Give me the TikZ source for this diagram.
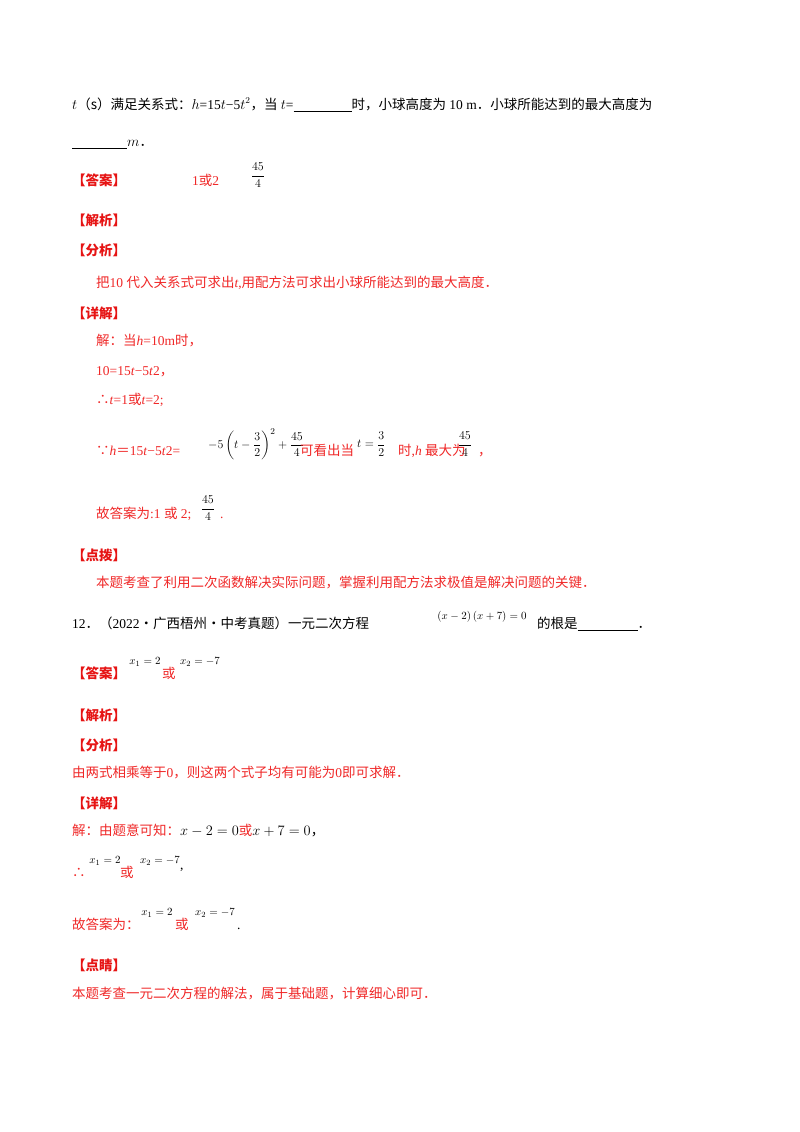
\documentclass[tikz,border=0pt]{standalone}
\usepackage{amsmath}
\usepackage{fontspec}
\setmainfont{Liberation Serif}
\newfontfamily\cjk{Noto Sans CJK SC}
\definecolor{ansred}{RGB}{230,20,20}
\definecolor{solred}{RGB}{240,40,40}
\newcommand{\cc}[1]{{\cjk #1}}
\begin{document}
\begin{tikzpicture}[x=1pt,y=-1pt,
  t/.style={anchor=base west,inner sep=0pt,font=\fontsize{13.5}{16}\selectfont},
  lab/.style={t,text=ansred,font=\fontsize{13.5}{16}\selectfont\cjk\bfseries},
  rt/.style={t,text=solred},
  fr/.style={anchor=center,inner sep=0pt,font=\fontsize{13}{15}\selectfont},
  sm/.style={anchor=center,inner sep=0pt,font=\fontsize{11}{13}\selectfont}]
\useasboundingbox (0,0) rectangle (800,1132);
\fill[white] (0,0) rectangle (800,1132);
\node[t] (l1) at (72,109) {$t$\cc{（s）满足关系式：}$h$=15$t$−5$t^2$\cc{，当} $t$=\underline{\hspace{58pt}}\cc{时，小球高度为} 10 m\cc{．小球所能达到的最大高度为}};
\node[t] (l2) at (72,146) {\underline{\hspace{55pt}}$m$\cc{．}};
\node[lab] (a1) at (72,185) {【答案】};
\node[rt] (a1v) at (192,185) {1\cc{或}2};
\node[fr] (a1f) at (258,175) {$\dfrac{45}{4}$};
\node[lab] (j1) at (72,225) {【解析】};
\node[lab] (f1) at (72,255) {【分析】};
\node[rt] (f1t) at (96,287) {\cc{把}10 \cc{代入关系式可求出}\textit{t},\cc{用配方法可求出小球所能达到的最大高度．}};
\node[lab] (x1) at (72,318) {【详解】};
\node[rt] (s1) at (96,345) {\cc{解：当}\textit{h}=10m\cc{时，}};
\node[rt] (s2) at (96,375) {10=15\textit{t}−5\textit{t}2\cc{，}};
\node[rt] (s3) at (96,404) {\cc{∴}\textit{t}=1\cc{或}\textit{t}=2;};
\node[rt] (s4) at (96,455) {\cc{∵}\textit{h}\cc{＝}15\textit{t}−5\textit{t}2=};
\node[fr,anchor=west] (s4m) at (208,444) {\color{black}$-5\left(t-\dfrac{3}{2}\right)^2+\dfrac{45}{4}$};
\node[rt] (s4b) at (300,455) {\cc{可看出当}};
\node[fr,anchor=west] (s4c) at (357,444) {\color{black}$t=\dfrac{3}{2}$};
\node[rt] (s4d) at (398,455) {\cc{时},\textit{h} \cc{最大为}};
\node[fr] (s4e) at (465,444) {$\dfrac{45}{4}$};
\node[rt] (s4f) at (478,455) {\cc{，}};
\node[rt] (s5) at (96,518) {\cc{故答案为}:1 \cc{或} 2;};
\node[fr] (s5f) at (208,508) {$\dfrac{45}{4}$};
\node[rt] (s5p) at (220,518) {.};
\node[lab] (d1) at (72,560) {【点拨】};
\node[rt] (d1t) at (96,587) {\cc{本题考查了利用二次函数解决实际问题，掌握利用配方法求极值是解决问题的关键．}};
\node[t] (q12) at (72,628) {12\cc{．（}2022\cc{·广西梧州·中考真题）一元二次方程}};
\node[sm] (q12m) at (482,617) {$\left(x-2\right)\left(x+7\right)=0$};
\node[t] (q12b) at (537,628) {\cc{的根是}\underline{\hspace{60pt}}\cc{．}};
\node[lab] (a2) at (72,678) {【答案】};
\node[sm] (a2m) at (145,662) {$x_1=2$};
\node[rt] (a2o) at (162,678) {\cc{或}};
\node[sm] (a2n) at (200,662) {$x_2=-7$};
\node[lab] (j2) at (72,720) {【解析】};
\node[lab] (f2) at (72,750) {【分析】};
\node[rt] (f2t) at (72,777) {\cc{由两式相乘等于}0\cc{，则这两个式子均有可能为}0\cc{即可求解．}};
\node[lab] (x2) at (72,808) {【详解】};
\node[rt] (u1) at (72,835) {\cc{解：由题意可知：}\color{black}$x-2=0$\color{solred}\cc{或}\color{black}$x+7=0$\cc{，}};
\node[rt] (u2) at (72,877) {\cc{∴}};
\node[sm] (u2a) at (105,861) {$x_1=2$};
\node[rt] (u2b) at (120,877) {\cc{或}};
\node[sm] (u2c) at (160,861) {$x_2=-7$};
\node[t] (u2d) at (180,869) {,};
\node[rt] (u3) at (72,929) {\cc{故答案为：}};
\node[sm] (u3a) at (157,913) {$x_1=2$};
\node[rt] (u3b) at (175,929) {\cc{或}};
\node[sm] (u3c) at (215,913) {$x_2=-7$};
\node[t] (u3d) at (237,929) {.};
\node[lab] (d2) at (72,970) {【点睛】};
\node[rt] (d2t) at (72,998) {\cc{本题考查一元二次方程的解法，属于基础题，计算细心即可．}};
\end{tikzpicture}
\end{document}
